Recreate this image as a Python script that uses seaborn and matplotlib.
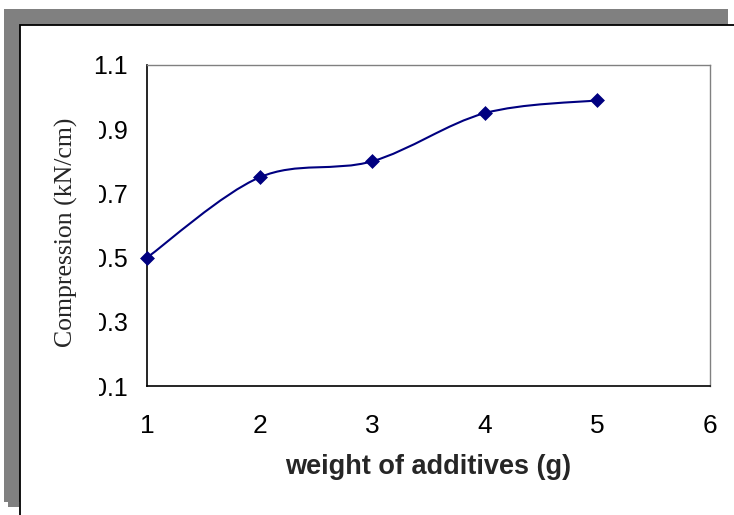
import matplotlib
matplotlib.use("Agg")
import matplotlib.pyplot as plt
import seaborn as sns
import pandas as pd
from matplotlib.patches import Rectangle, PathPatch
from matplotlib.path import Path

# data
weights = [1, 2, 3, 4, 5]
compression = [0.50, 0.75, 0.80, 0.95, 0.99]
x_ticks = [1, 2, 3, 4, 5, 6]
y_ticks = [0.1, 0.3, 0.5, 0.7, 0.9, 1.1]

W, H = 734, 515
NAVY = "#000080"

sns.set_style("white")
plt.rcParams['font.family'] = ['Liberation Sans', 'DejaVu Sans']

fig = plt.figure(figsize=(W / 100, H / 100), dpi=100)


def px_rect(x0, y0, x1, y1, **kw):
    # rectangle given in pixel coords (origin top-left)
    r = Rectangle((x0 / W, 1 - y1 / H), (x1 - x0) / W, (y1 - y0) / H,
                  transform=fig.transFigure, **kw)
    fig.patches.append(r)
    return r


# Excel style frame with grey shadow
px_rect(4, 9, 728, 502, facecolor="#808080", edgecolor="none", zorder=-3)
px_rect(8, 500, 19, 507, facecolor="#808080", edgecolor="none", zorder=-3)
px_rect(19.5, 24.5, 745, 530, facecolor="white", edgecolor="black", lw=1.3, zorder=-2)

ax = fig.add_axes([147 / W, 1 - 386 / H, (710 - 147) / W, (386 - 65) / H])
ax.set_facecolor("white")

df = pd.DataFrame({"weight": weights, "compression": compression})

# smoothed line (Catmull-Rom style bezier through the points, like Excel)
pts = list(zip(weights, compression))
verts = [pts[0]]
codes = [Path.MOVETO]
for i in range(len(pts) - 1):
    p0 = pts[i - 1] if i > 0 else pts[i]
    p1 = pts[i]
    p2 = pts[i + 1]
    p3 = pts[i + 2] if i + 2 < len(pts) else pts[i + 1]
    c1 = (p1[0] + (p2[0] - p0[0]) / 6, p1[1] + (p2[1] - p0[1]) / 6)
    c2 = (p2[0] - (p3[0] - p1[0]) / 6, p2[1] - (p3[1] - p1[1]) / 6)
    verts += [c1, c2, p2]
    codes += [Path.CURVE4] * 3
ax.add_patch(PathPatch(Path(verts, codes), facecolor="none", edgecolor=NAVY,
                       lw=1.5, zorder=2, clip_on=False))

sns.scatterplot(data=df, x="weight", y="compression", marker="D", s=50,
                color=NAVY, edgecolor=NAVY, linewidth=0.5, zorder=3,
                clip_on=False, ax=ax, legend=False)

ax.set_xlim(1, 6)
ax.set_ylim(0.1, 1.1)
ax.set_xticks(x_ticks)
ax.set_yticks(y_ticks)
ax.set_xticklabels([str(t) for t in x_ticks])
ax.set_yticklabels([f"{t:.1f}" for t in y_ticks])
ax.tick_params(axis="both", direction="out", length=5, width=1, color="black",
               labelsize=18, labelcolor="black")
ax.tick_params(axis="x", labelsize=19, pad=15)
ax.tick_params(axis="y", pad=9)

for s in ["left", "bottom"]:
    ax.spines[s].set_color("black")
    ax.spines[s].set_linewidth(1.2)
for s in ["top", "right"]:
    ax.spines[s].set_color("#808080")
    ax.spines[s].set_linewidth(1.0)
    ax.spines[s].set_visible(True)

ax.set_xlabel("weight of additives (g)", fontsize=19.5, fontweight="bold")
ax.xaxis.label.set_va("center")
ax.xaxis.set_label_coords(0.5, -(467 - 386) / 321)
ax.set_ylabel("Compression (kN/cm)", fontsize=18.5, family="Liberation Serif")
ax.yaxis.label.set_va("center")
ax.yaxis.set_label_coords((66 - 147) / 563, (386 - 232) / 321)

# the left part of the lower y tick labels is cut off in the original
px_rect(85, 80, 99, 400, facecolor="white", edgecolor="none", zorder=5)

fig.savefig("out.png", dpi=100)
